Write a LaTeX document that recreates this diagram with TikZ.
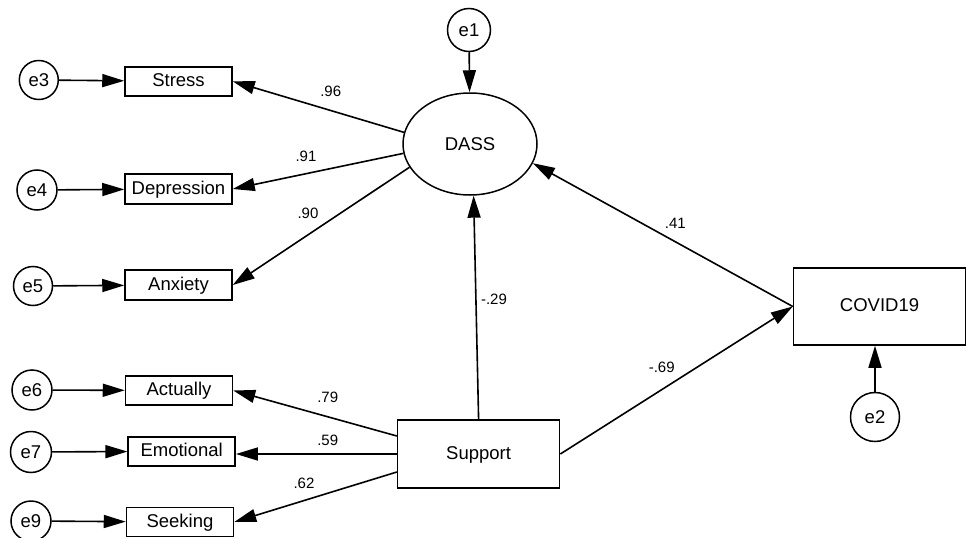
\documentclass[tikz,border=0pt]{standalone}
\usepackage{fontspec}
\setmainfont{Liberation Sans}
\usetikzlibrary{arrows.meta,shapes.geometric}
\begin{document}
\begin{tikzpicture}[x=1pt,y=-1pt,
  every node/.style={inner sep=0pt},
  obs/.style={draw, line width=1.5pt, font=\fontsize{18.5}{20}\selectfont, text height=13.5pt, text depth=3.5pt},
  err/.style={draw, circle, line width=1.5pt, font=\fontsize{18.5}{20}\selectfont},
  lat/.style={draw, ellipse, line width=1.5pt, font=\fontsize{18.5}{20}\selectfont},
  lbl/.style={font=\fontsize{15}{16}\selectfont},
  conn/.style={line width=1.6pt, -{Triangle[length=22pt,width=13pt]}}
]
\useasboundingbox (0,0) rectangle (967,538);

% observed boxes
\node[obs, minimum width=107pt, minimum height=29pt] (stress) at (178.5,81.3) {Stress};
\node[obs, minimum width=107pt, minimum height=30pt] (depr) at (178.5,189) {Depression};
\node[obs, minimum width=107pt, minimum height=30pt] (anx) at (178.5,285) {Anxiety};
\node[obs, minimum width=107pt, minimum height=29pt] (act) at (179,390.5) {Actually};
\node[obs, minimum width=107pt, minimum height=29pt] (emot) at (181.7,451.3) {Emotional};
\node[obs, minimum width=107pt, minimum height=29pt] (seek) at (180,522) {Seeking};
\node[obs, minimum width=162pt, minimum height=68pt] (support) at (478.6,454) {Support};
\node[obs, minimum width=172pt, minimum height=77pt] (covid) at (879.5,306.5) {COVID19};

% latent
\node[lat, minimum width=134pt, minimum height=102pt] (dass) at (470,144) {DASS};

% errors
\node[err, minimum size=43pt] (e1) at (469,30) {e1};
\node[err, minimum size=49pt] (e2) at (875,417) {e2};
\node[err, minimum size=39pt] (e3) at (38.8,80) {e3};
\node[err, minimum size=40pt] (e4) at (37,190) {e4};
\node[err, minimum size=39pt] (e5) at (33,286) {e5};
\node[err, minimum size=40pt] (e6) at (32,390) {e6};
\node[err, minimum size=41pt] (e7) at (31,452) {e7};
\node[err, minimum size=40pt] (e9) at (31,521) {e9};

% error arrows
\draw[conn] (e1) -- (dass);
\draw[conn] (e2.north) -- (e2.north |- covid.south);
\draw[conn] (e3) -- (stress);
\draw[conn] (e4) -- (depr);
\draw[conn] (e5) -- (anx);
\draw[conn] (e6) -- (act);
\draw[conn] (e7) -- (emot);
\draw[conn] (e9) -- (seek);

% loadings
\draw[conn] (dass.170) -- (stress.east);
\draw[conn] (dass.188) -- (depr.east);
\draw[conn] (dass.201) -- (anx.east);
\draw[conn] ([yshift=18pt]support.west) -- (act.east);
\draw[conn] (support.west) -- (support.west -| emot.east);
\draw[conn] ([yshift=-18pt]support.west) -- (seek.east);

% structural paths
\draw[conn] (covid.west) -- (dass.-17);
\draw[conn] (support.north) -- (dass.-86);
\draw[conn] (support.east) -- (covid.west);

% labels
\node[lbl] (l96) at (330.7,91.7) {.96};
\node[lbl] (l91) at (306,156.7) {.91};
\node[lbl] (l90) at (308,213) {.90};
\node[lbl] (l29) at (494,299) {-.29};
\node[lbl] (l41) at (675.4,223.7) {.41};
\node[lbl] (l69) at (661.7,367.5) {-.69};
\node[lbl] (l79) at (327.7,397.3) {.79};
\node[lbl] (l59) at (327.7,440.7) {.59};
\node[lbl] (l62) at (304,483.3) {.62};
\end{tikzpicture}
\end{document}
